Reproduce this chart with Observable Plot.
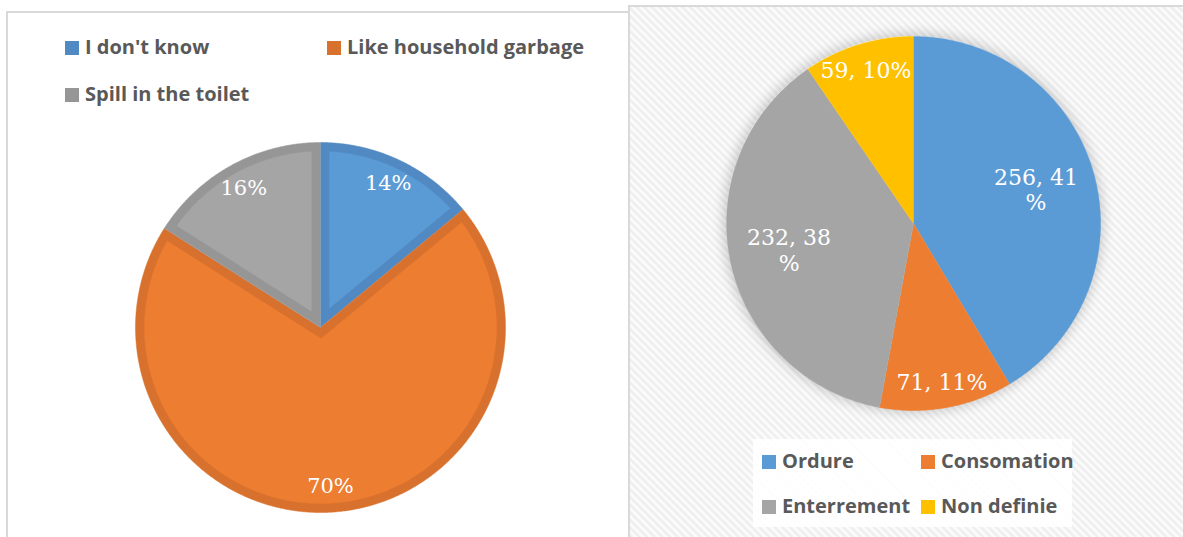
<!DOCTYPE html>
<html><head><meta charset="utf-8">
<script src="https://cdn.jsdelivr.net/npm/d3@7"></script>
<script src="https://cdn.jsdelivr.net/npm/@observablehq/plot@0.6"></script>
<style>
html,body{margin:0;padding:0;background:#fff;width:1183px;height:537px;overflow:hidden;position:relative;}
.abs{position:absolute;}
#leftPanel{left:6px;top:11px;width:625px;height:620px;border:2px solid #d9d9d9;box-sizing:border-box;background:#fff;}
#rightPanel{left:628px;top:5px;width:620px;height:620px;border:2px solid #d9d9d9;box-sizing:border-box;
  background:repeating-linear-gradient(45deg,#fefefe 0px,#ececec 2.7px,#fefefe 5.4px);}
.lg{font-family:"Open Sans",sans-serif;font-weight:700;font-size:20px;color:#595959;white-space:nowrap;line-height:20px;}
.sw{width:14px;height:14px;}
#rightLegendBox{left:753px;top:439px;width:319px;height:88px;background:rgba(255,255,255,0.9);}
#shadow{border-radius:50%;box-shadow:0 0 12px 3px rgba(0,0,0,0.18);}
</style></head>
<body>
<div id="leftPanel" class="abs"></div>
<div id="rightPanel" class="abs"></div>
<div id="rightLegendBox" class="abs"></div>
<script>
// ---- data ----
const leftCategories = ["I don't know", "Like household garbage", "Spill in the toilet"];
const leftPercents = [14, 70, 16];
const leftFills = ["#5b9bd5", "#ed7d31", "#a5a5a5"];
const leftBorders = ["#5189c2", "#d7712d", "#969696"];

const rightCategories = ["Ordure", "Consomation", "Enterrement", "Non definie"];
const rightCounts = [256, 71, 232, 59];
const rightPercents = [41, 11, 38, 10];
const rightFills = ["#5b9bd5", "#ed7d31", "#a5a5a5", "#ffc000"];

// ---- geometry helpers (unit radius) ----
function sectorPoints(key, a0, a1, r) {
  const pts = [{key, x: 0, y: 0}];
  const n = Math.max(2, Math.ceil((a1 - a0) / (Math.PI / 360)));
  for (let i = 0; i <= n; i++) {
    const a = a0 + (a1 - a0) * i / n;
    pts.push({key, x: r * Math.sin(a), y: r * Math.cos(a)});
  }
  return pts;
}
function insetPoints(key, a0, a1, w) {
  const th = a1 - a0, m = (a0 + a1) / 2;
  const d = w / Math.sin(th / 2);
  const rho = 1 - w;
  const del = Math.asin(w / rho);
  const pts = [{key, x: d * Math.sin(m), y: d * Math.cos(m)}];
  const b0 = a0 + del, b1 = a1 - del;
  const n = Math.max(2, Math.ceil((b1 - b0) / (Math.PI / 360)));
  for (let i = 0; i <= n; i++) {
    const a = b0 + (b1 - b0) * i / n;
    pts.push({key, x: rho * Math.sin(a), y: rho * Math.cos(a)});
  }
  return pts;
}
function place(el, left, top) {
  el.classList.add("abs");
  el.style.left = left + "px"; el.style.top = top + "px";
  document.body.appendChild(el);
}

// ---- left pie ----
{
  const R = 185, pad = 12, band = 9;
  const L = (R + pad) / R;
  const arcs = d3.pie().sort(null)(leftPercents);
  const outer = [], inner = [], labels = [];
  arcs.forEach((a, i) => {
    const k = leftCategories[i];
    sectorPoints(k, a.startAngle, a.endAngle, 1).forEach(p => outer.push({...p, c: leftBorders[i]}));
    insetPoints(k, a.startAngle, a.endAngle, band / R).forEach(p => inner.push({...p, c: leftFills[i]}));
    const m = (a.startAngle + a.endAngle) / 2, lr = 0.86;
    labels.push({x: lr * Math.sin(m), y: lr * Math.cos(m), t: leftPercents[i] + "%"});
  });
  const svg = Plot.plot({
    width: 2 * (R + pad), height: 2 * (R + pad), margin: 0,
    style: {background: "transparent", overflow: "visible"},
    x: {domain: [-L, L], axis: null}, y: {domain: [-L, L], axis: null},
    color: {type: "identity"},
    marks: [
      Plot.line(outer, {x: "x", y: "y", z: "key", fill: "c", stroke: "c", strokeWidth: 0.5}),
      Plot.line(inner, {x: "x", y: "y", z: "key", fill: "c", stroke: "c", strokeWidth: 0.5}),
      Plot.text(labels, {x: "x", y: "y", text: "t", fill: "white", fontSize: 21, fontFamily: "DejaVu Serif"})
    ]
  });
  place(svg, 320 - (R + pad), 327 - (R + pad));
}

// ---- right pie ----
{
  const R = 187, pad = 12, cx = 913, cy = 223;
  const sh = document.createElement("div");
  sh.id = "shadow"; sh.style.width = sh.style.height = (2 * R) + "px";
  place(sh, cx - R, cy - R);
  const L = (R + pad) / R;
  const total = d3.sum(rightCounts);
  const arcs = d3.pie().sort(null)(rightCounts);
  const polys = [], labels = [];
  arcs.forEach((a, i) => {
    sectorPoints(rightCategories[i], a.startAngle, a.endAngle, 1).forEach(p => polys.push({...p, c: rightFills[i]}));
    const frac = rightCounts[i] / total;
    const m = (a.startAngle + a.endAngle) / 2, lr = frac > 0.25 ? 0.68 : 0.86;
    const t = frac > 0.25 ? `${rightCounts[i]}, ${rightPercents[i]}\n%` : `${rightCounts[i]}, ${rightPercents[i]}%`;
    labels.push({x: lr * Math.sin(m), y: lr * Math.cos(m), t});
  });
  const svg = Plot.plot({
    width: 2 * (R + pad), height: 2 * (R + pad), margin: 0,
    style: {background: "transparent", overflow: "visible"},
    x: {domain: [-L, L], axis: null}, y: {domain: [-L, L], axis: null},
    color: {type: "identity"},
    marks: [
      Plot.line(polys, {x: "x", y: "y", z: "key", fill: "c", stroke: "c", strokeWidth: 0.5}),
      Plot.text(labels, {x: "x", y: "y", text: "t", fill: "white", fontSize: 22, fontFamily: "DejaVu Serif", lineHeight: 1.15})
    ]
  });
  place(svg, cx - R - pad, cy - R - pad);
}

// ---- legends ----
function legendItem(label, color, x, yc) {
  const sw = document.createElement("div");
  sw.className = "sw"; sw.style.background = color;
  place(sw, x, yc - 7);
  const tx = document.createElement("div");
  tx.className = "lg"; tx.textContent = label;
  place(tx, x + 20, yc - 11);
}
const leftLegendPos = [[65, 48], [327, 48], [65, 95]];
leftCategories.forEach((c, i) => legendItem(c, leftBorders[i], ...leftLegendPos[i]));
const rightLegendPos = [[762, 462], [921, 462], [762, 507], [921, 507]];
rightCategories.forEach((c, i) => legendItem(c, rightFills[i], ...rightLegendPos[i]));
</script>
</body></html>
